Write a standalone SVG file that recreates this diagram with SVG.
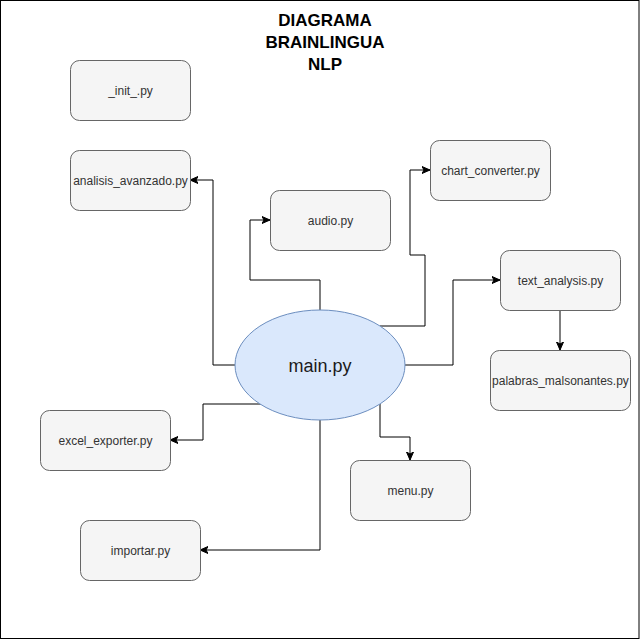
<svg xmlns="http://www.w3.org/2000/svg" width="641" height="641" viewBox="0 0 641 641">
<defs>
<style>
.node rect{fill:#f5f5f5;stroke:#666666;stroke-width:1}
.node text{font-family:"Liberation Sans",Arial,sans-serif;font-size:12px;fill:#333333;text-anchor:middle}
.edge{fill:none;stroke:#000000;stroke-width:1;marker-end:url(#arr)}
.title{font-family:"Liberation Sans",Arial,sans-serif;font-size:17px;font-weight:bold;fill:#000000;text-anchor:middle}
</style>
<marker id="arr" markerUnits="userSpaceOnUse" markerWidth="9" markerHeight="8" refX="8" refY="4" orient="auto" viewBox="0 0 9 8">
<path d="M0,0.5 L8,4 L0,7.5 L2,4 Z" fill="#000000" stroke="#000000" stroke-width="1"/>
</marker>
</defs>
<rect x="0.5" y="0.5" width="638.5" height="638" fill="#ffffff" stroke="#000000" stroke-width="1"/>
<g id="title">
<text class="title" x="325" y="26">DIAGRAMA</text>
<text class="title" x="325" y="48">BRAINLINGUA</text>
<text class="title" x="325" y="70">NLP</text>
</g>
<g id="connectors">
<path class="edge" d="M235,365 H213 V180 H190"/>
<path class="edge" d="M320,310 V280 H250 V220 H270"/>
<path class="edge" d="M380,326 H425 V255 H410 V170 H430"/>
<path class="edge" d="M405,365 H453 V280 H500"/>
<path class="edge" d="M560,310 V350"/>
<path class="edge" d="M261,404 H203 V440 H170"/>
<path class="edge" d="M380,404 V437 H410 V460"/>
<path class="edge" d="M320,420 V550 H200"/>
</g>
<g id="init" class="node"><rect x="70.5" y="60.5" width="120" height="60" rx="9"/><text x="130.5" y="94.5">_init_.py</text></g>
<g id="analisis_avanzado" class="node"><rect x="70.5" y="150.5" width="120" height="60" rx="9"/><text x="130.5" y="184.5">analisis_avanzado.py</text></g>
<g id="audio" class="node"><rect x="270.5" y="190.5" width="120" height="60" rx="9"/><text x="330.5" y="224.5">audio.py</text></g>
<g id="chart_converter" class="node"><rect x="430.5" y="140.5" width="120" height="60" rx="9"/><text x="490.5" y="174.5">chart_converter.py</text></g>
<g id="text_analysis" class="node"><rect x="500.5" y="250.5" width="120" height="60" rx="9"/><text x="560.5" y="284.5">text_analysis.py</text></g>
<g id="palabras_malsonantes" class="node"><rect x="490.5" y="350.5" width="140" height="60" rx="9"/><text x="560.5" y="384.5">palabras_malsonantes.py</text></g>
<g id="excel_exporter" class="node"><rect x="40.5" y="410.5" width="130" height="60" rx="9"/><text x="105.5" y="444.5">excel_exporter.py</text></g>
<g id="menu" class="node"><rect x="350.5" y="460.5" width="120" height="60" rx="9"/><text x="410.5" y="494.5">menu.py</text></g>
<g id="importar" class="node"><rect x="80.5" y="520.5" width="120" height="60" rx="9"/><text x="140.5" y="554.5">importar.py</text></g>
<g id="main">
<ellipse cx="320" cy="365" rx="85" ry="55" fill="#dae8fc" stroke="#6c8ebf" stroke-width="1"/>
<text x="320" y="371.5" font-family="Liberation Sans, Arial, sans-serif" font-size="18" fill="#1a1a1a" text-anchor="middle">main.py</text>
</g>
</svg>
